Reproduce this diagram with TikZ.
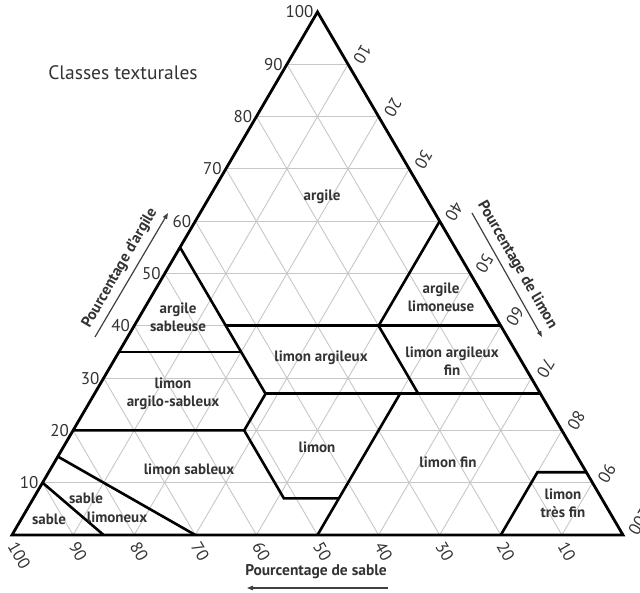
\documentclass[tikz,border=0pt]{standalone}
\usepackage{fontspec}
\setmainfont{PT Sans}
\usetikzlibrary{arrows.meta, calc}

\begin{document}
\begin{tikzpicture}[
        x=1pt, y=1pt,
        >={Triangle[length=6pt, width=4.5pt]},
        gridline/.style={draw=black!22, line width=0.9pt},
        border/.style={draw=black, line width=2.8pt, line join=miter},
        classline/.style={draw=black, line width=2.6pt},
        classname/.style={font=\fontsize{15}{18}\selectfont\bfseries, text=black!80, align=center, inner sep=0pt},
        tick/.style={font=\fontsize{17}{17}\selectfont, text=black!80, inner ysep=1pt, inner xsep=4pt},
        axistitle/.style={font=\fontsize{15.5}{16}\selectfont\bfseries, text=black!80, inner sep=0pt},
        axisarrow/.style={->, draw=black!75, line width=1.2pt}
    ]

    \useasboundingbox (0,0) rectangle (640,592);

    % --- Triangle, drawn in (silt, clay) percentages ---
    \begin{scope}[shift={(12pt,57pt)}, x={(6.11pt,0pt)}, y={(3.055pt,5.23pt)}]

        % grid every 10 %
        \foreach \v in {10,20,...,90} {
            \draw[gridline] (0,\v) -- (100-\v,\v);
            \draw[gridline] (\v,0) -- (\v,100-\v);
            \draw[gridline] (\v,0) -- (0,\v);
        }

        % --- Class boundaries ---
        \draw[classline] (0,55) -- (28,27);
        \draw[classline] (15,40) -- (60,40);
        \draw[classline] (40,60) -- (40,40) -- (53,27);
        \draw[classline] (0,35) -- (20,35);
        \draw[classline] (28,27) -- (73,27);
        \draw[classline] (0,20) -- (28,20) -- (28,27);
        \draw[classline] (28,20) -- (41,7) -- (50,7);
        \draw[classline] (50,27) -- (50,0);
        \draw[classline] (80,0) -- (80,12) -- (88,12);
        \draw[classline] (0,15) -- (30,0);
        \draw[classline] (0,10) -- (15,0);

        % outline
        \draw[border] (0,0) -- (100,0) -- (0,100) -- cycle;

        % --- Scale numbers ---
        \foreach \v in {10,20,...,100} {
            \node[tick, anchor=east] (clay\v) at (0,\v) {\v};
            \node[tick, anchor=east, inner xsep=6pt, rotate=-120] (silt\v) at ($(\v,100-\v)+(6.6pt,-3.8pt)$) {\v};
            \node[tick, anchor=west, inner xsep=7.5pt, rotate=-60] (sand\v) at ($(100-\v,0)+(-3.5pt,-2pt)$) {\v};
        }
    \end{scope}

    % --- Class names ---
    \node[classname] (argile) at (322,395) {argile};
    \node[classname] (argLim) at (441,295) {argile\\limoneuse};
    \node[classname] (argSab) at (178,275) {argile\\sableuse};
    \node[classname] (limArg) at (321,234) {limon argileux};
    \node[classname] (limArgFin) at (452,231) {limon argileux\\fin};
    \node[classname] (limArgSab) at (173,198) {limon\\argilo-sableux};
    \node[classname] (limon) at (317,145) {limon};
    \node[classname] (limSab) at (189,123) {limon sableux};
    \node[classname] (limFin) at (448,130) {limon fin};
    \node[classname] (limTresFin) at (563,89) {limon\\très fin};
    \node[classname] (sabLimA) at (86,94) {sable};
    \node[classname] (sabLimB) at (117,75) {limoneux};
    \node[classname] (sable) at (49,73) {sable};

    % --- Axis titles ---
    \node[font=\fontsize{19.5}{20}\selectfont, text=black!80] (title) at (123,519) {Classes texturales};
    \node[axistitle, rotate=60] (clayTitle) at (120,324) {Pourcentage d'argile};
    \node[axistitle, rotate=-60] (siltTitle) at (517,327) {Pourcentage de limon};
    \node[axistitle] (sandTitle) at (316,20) {Pourcentage de sable};

    \coordinate (clayFrom) at (95,255);
    \coordinate (clayTo) at (168,379);
    \coordinate (siltFrom) at (472,379);
    \coordinate (siltTo) at (542,255);
    \coordinate (sandFrom) at (388,4);
    \coordinate (sandTo) at (247,4);
    \draw[axisarrow] (clayFrom) -- (clayTo);
    \draw[axisarrow] (siltFrom) -- (siltTo);
    \draw[axisarrow] (sandFrom) -- (sandTo);

\end{tikzpicture}
\end{document}
